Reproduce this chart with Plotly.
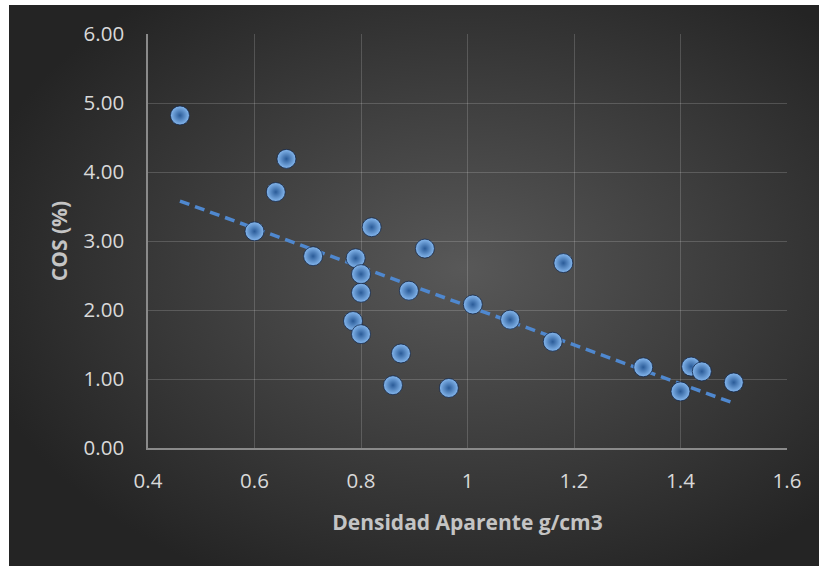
import base64
import numpy as np
import plotly.graph_objects as go

# Data
densidad = [0.46, 0.66, 0.64, 0.60, 0.71, 0.82, 0.79, 0.80, 0.80, 0.92,
            0.89, 0.785, 0.80, 0.875, 0.86, 0.965, 1.01, 1.08, 1.16, 1.18,
            1.33, 1.42, 1.44, 1.40, 1.50]
cos_pct = [4.82, 4.19, 3.71, 3.14, 2.78, 3.20, 2.75, 2.52, 2.25, 2.89,
           2.28, 1.84, 1.65, 1.37, 0.91, 0.87, 2.08, 1.86, 1.54, 2.68,
           1.17, 1.18, 1.11, 0.82, 0.95]
x_ticks = [0.4, 0.6, 0.8, 1.0, 1.2, 1.4, 1.6]
x_tick_labels = ["0.4", "0.6", "0.8", "1", "1.2", "1.4", "1.6"]
y_ticks = [0, 1, 2, 3, 4, 5, 6]
y_tick_labels = ["0.00", "1.00", "2.00", "3.00", "4.00", "5.00", "6.00"]

# Linear trend line
slope, intercept = np.polyfit(densidad, cos_pct, 1)
tx = np.array([min(densidad), max(densidad)])
ty = slope * tx + intercept

W, H = 819, 566
L, R, T, B = 148, 32, 34, 118
pw, ph = W - L - R, H - T - B

svg = (
    '<svg xmlns="http://www.w3.org/2000/svg" width="810" height="561" '
    'viewBox="0 0 810 561" preserveAspectRatio="none">'
    '<defs><radialGradient id="g" cx="56%" cy="47%" r="62%" '
    'gradientUnits="objectBoundingBox">'
    '<stop offset="0%" stop-color="#585858"/>'
    '<stop offset="100%" stop-color="#242424"/>'
    '</radialGradient></defs>'
    '<rect x="0" y="0" width="810" height="561" fill="url(#g)"/></svg>'
)
src = "data:image/svg+xml;base64," + base64.b64encode(svg.encode()).decode()

bx0, by0 = 9, 5
img_x = (bx0 - L) / pw
img_y = (H - B - by0) / ph
img_sx = (W - bx0) / pw
img_sy = (H - by0) / ph

fig = go.Figure()
fig.add_trace(go.Scatter(
    x=tx, y=ty, mode="lines",
    line=dict(color="#4f88cf", width=3.5, dash="10px,6px"),
    hoverinfo="skip", showlegend=False,
))
fig.add_trace(go.Scatter(
    x=densidad, y=cos_pct, mode="markers",
    marker=dict(size=19, color="#86b8ee",
                gradient=dict(type="radial", color="#2a5b98"),
                line=dict(color="rgba(15,35,70,0.75)", width=1)),
    showlegend=False,
))

font = "'Open Sans', 'Noto Sans', sans-serif"
fig.update_layout(
    width=W, height=H,
    margin=dict(l=L, r=R, t=T, b=B, pad=0),
    paper_bgcolor="white",
    plot_bgcolor="rgba(0,0,0,0)",
    images=[dict(source=src, xref="paper", yref="paper",
                 x=img_x, y=img_y, sizex=img_sx, sizey=img_sy,
                 xanchor="left", yanchor="top", sizing="stretch",
                 layer="below")],
    xaxis=dict(range=[0.4, 1.6], tickvals=x_ticks, ticktext=x_tick_labels,
               showgrid=True, gridcolor="rgba(255,255,255,0.17)", gridwidth=1,
               showline=True, linecolor="#8a8a8a", linewidth=1.5,
               zeroline=False, ticks="", ticklabelstandoff=14,
               tickfont=dict(family=font, size=20.5, color="#d9d9d9"),
               title=dict(text="<b>Densidad Aparente g/cm3</b>", standoff=22,
                          font=dict(family=font, size=21, color="#c4c4c4"))),
    yaxis=dict(range=[0, 6], tickvals=y_ticks, ticktext=y_tick_labels,
               showgrid=True, gridcolor="rgba(255,255,255,0.17)", gridwidth=1,
               showline=True, linecolor="#8a8a8a", linewidth=1.5,
               zeroline=False, ticks="", ticklabelstandoff=18,
               tickfont=dict(family=font, size=20.5, color="#d9d9d9"),
               title=dict(text="<b>COS (%)</b>", standoff=10,
                          font=dict(family=font, size=21, color="#c4c4c4"))),
)

fig.write_html(
    "out.html",
    config={"displayModeBar": False},
    post_script="document.body.style.margin='0';"
                "document.body.style.overflow='hidden';",
)
